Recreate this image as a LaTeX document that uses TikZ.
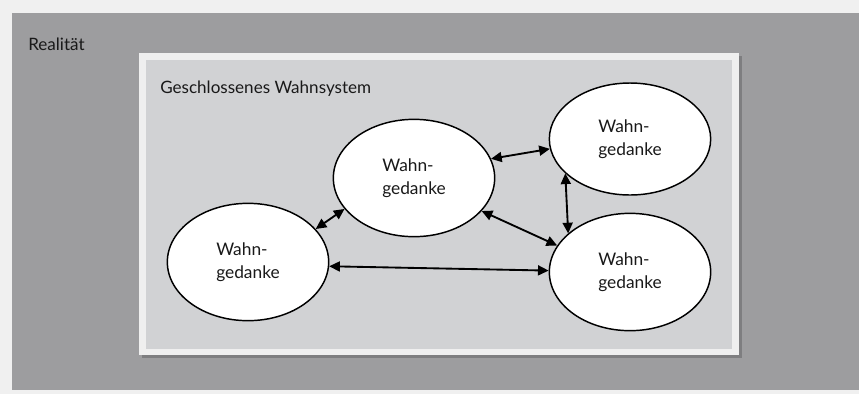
\documentclass[tikz,border=0pt]{standalone}
\usepackage{fontspec}
\setmainfont{Lato}
\usetikzlibrary{arrows.meta,shapes.geometric}
\definecolor{pagebg}{HTML}{F0F0F0}
\definecolor{outerbg}{HTML}{9D9D9F}
\definecolor{innerbg}{HTML}{D1D2D4}
\definecolor{rimcol}{HTML}{EFEFEF}
\definecolor{shadecol}{HTML}{7E7E80}
\tikzset{
  idea/.style={ellipse, draw=black, line width=1.1pt, fill=white,
    minimum width=121pt, minimum height=88pt, inner sep=0pt,
    align=left, font=\fontsize{13}{17}\selectfont, text=black!90},
  link/.style={line width=1.4pt, {Triangle[length=8pt,width=7.5pt]}-{Triangle[length=8pt,width=7.5pt]}},
  caption/.style={anchor=west, font=\fontsize{12.8}{15}\selectfont, text=black!90, inner sep=0pt}
}
\begin{document}
\begin{tikzpicture}[x=0.75pt,y=-0.75pt]
  % page and frames
  \fill[pagebg] (0,0) rectangle (859,394);
  \useasboundingbox (0,0) rectangle (859,394);
  \fill[outerbg] (12,13) rectangle (859,390);
  \fill[shadecol] (142,56) rectangle (742,358);
  \fill[rimcol] (139,53) rectangle (739,355);
  \fill[innerbg] (146,60) rectangle (732,349);

  \node[caption] (real) at (28,44) {Realität};
  \node[caption] (sys) at (160,89) {Geschlossenes Wahnsystem};

  % delusional ideas
  \node[idea] (c) at (414,178) {Wahn-\\gedanke};
  \node[idea, minimum height=84pt] (t) at (630,139) {Wahn-\\gedanke};
  \node[idea] (b) at (630,272) {Wahn-\\gedanke};
  \node[idea] (l) at (248,262) {Wahn-\\gedanke};

  % mutual reinforcement
  \draw[link] (l.26) -- (c.204);
  \draw[link] (c.14) -- (t.187);
  \draw[link] (t.-152) -- (b.148);
  \draw[link] (c.-26) -- (b.160);
  \draw[link] (l.-3) -- (b.179);
\end{tikzpicture}
\end{document}
